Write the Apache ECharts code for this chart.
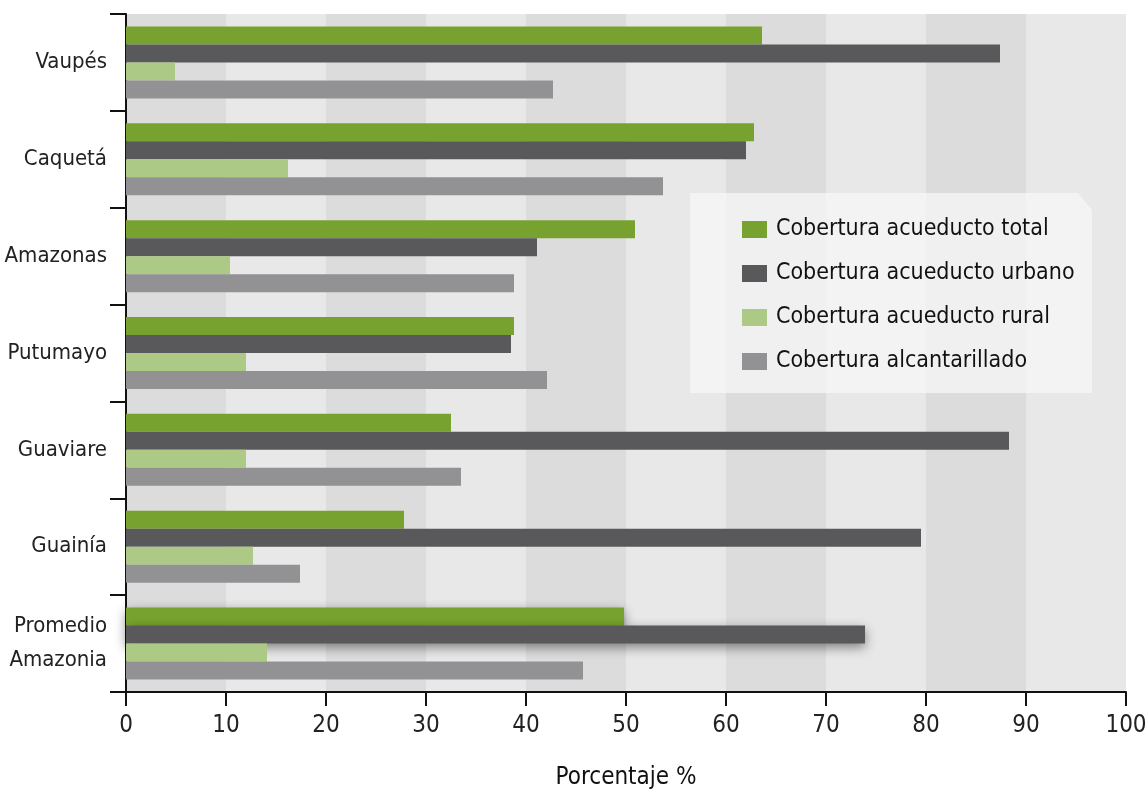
<!DOCTYPE html>
<html>
<head>
<meta charset="utf-8">
<script src="https://cdn.jsdelivr.net/npm/echarts@6/dist/echarts.min.js"></script>
<style>
  html, body { margin: 0; padding: 0; background: #fff; }
  #chart { width: 1147px; height: 791px; }
</style>
</head>
<body>
<div id="chart"></div>
<script>
var categories = ["Vaupés", "Caquetá", "Amazonas", "Putumayo", "Guaviare", "Guainía", "Promedio\nAmazonia"];
var seriesNames = ["Cobertura acueducto total", "Cobertura acueducto urbano", "Cobertura acueducto rural", "Cobertura alcantarillado"];
var acueductoTotal = [63.6, 62.8, 50.9, 38.8, 32.5, 27.8, 49.8];
var acueductoUrbano = [87.4, 62.0, 41.1, 38.5, 88.3, 79.5, 73.9];
var acueductoRural = [4.9, 16.2, 10.4, 12.0, 12.0, 12.7, 14.1];
var alcantarillado = [42.7, 53.7, 38.8, 42.1, 33.5, 17.4, 45.7];
var xTicks = [0, 10, 20, 30, 40, 50, 60, 70, 80, 90, 100];

var colors = ["#78a22f", "#59595b", "#adc986", "#929295"];
var font = "'DejaVu Sans Condensed', 'Liberation Sans Narrow', sans-serif";

var chart = echarts.init(document.getElementById("chart"));

// la barra de promedio lleva sombra en las dos primeras series
function withShadow(values, shadow) {
  return values.map(function (v, i) {
    if (shadow && i === values.length - 1) {
      return {
        value: v,
        itemStyle: { shadowBlur: 12, shadowColor: "rgba(0,0,0,0.45)", shadowOffsetY: 4 }
      };
    }
    return v;
  });
}

var allValues = [acueductoTotal, acueductoUrbano, acueductoRural, alcantarillado];

var option = {
  backgroundColor: "#fff",
  animation: false,
  textStyle: { fontFamily: font },
  grid: { left: 126, right: 21, top: 14, bottom: 99, outerBoundsMode: "none", containLabel: false },
  graphic: [
    {
      type: "polygon",
      z: 5,
      shape: { points: [[690, 193], [1078, 193], [1092, 210], [1092, 393], [690, 393]] },
      style: { fill: "rgba(246,246,246,0.78)" }
    }
  ],
  legend: {
    orient: "vertical",
    left: 737,
    top: 213,
    z: 10,
    icon: "rect",
    itemWidth: 25,
    itemHeight: 17,
    itemGap: 21,
    data: seriesNames,
    textStyle: { fontFamily: font, fontSize: 23, color: "#111", padding: [0, 0, 0, 4] }
  },
  xAxis: {
    type: "value",
    min: xTicks[0],
    max: xTicks[xTicks.length - 1],
    interval: 10,
    name: "Porcentaje %",
    nameLocation: "middle",
    nameGap: 74,
    nameTextStyle: { fontFamily: font, fontSize: 24, color: "#111" },
    axisLine: { show: true, lineStyle: { color: "#111", width: 2 } },
    axisTick: { show: true, length: 14, lineStyle: { color: "#111", width: 2 } },
    axisLabel: { fontFamily: font, fontSize: 24, color: "#222", margin: 22 },
    splitLine: { show: false },
    splitArea: { show: true, areaStyle: { color: ["#dcdcdc", "#e8e8e8"] } }
  },
  yAxis: {
    type: "category",
    inverse: true,
    data: categories,
    axisLine: { show: true, lineStyle: { color: "#111", width: 2 } },
    axisTick: { show: true, length: 16, lineStyle: { color: "#111", width: 2 } },
    axisLabel: { fontFamily: font, fontSize: 22, color: "#222", margin: 19, lineHeight: 34 }
  },
  series: seriesNames.map(function (name, k) {
    return {
      name: name,
      type: "bar",
      data: withShadow(allValues[k], k < 2),
      barWidth: 18,
      barGap: "0%",
      barCategoryGap: "26%",
      itemStyle: { color: colors[k] },
      z: 3
    };
  })
};

chart.setOption(option);
window.addEventListener("resize", function () {
  chart.resize();
});
</script>
</body>
</html>
